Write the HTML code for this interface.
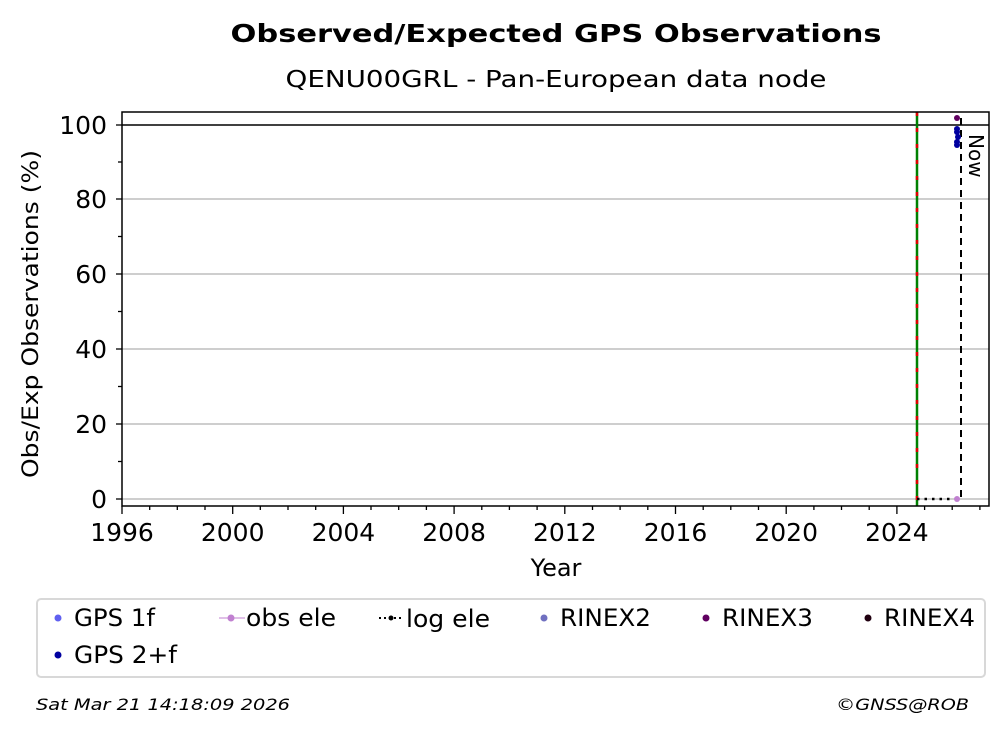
<!DOCTYPE html>
<html><head><style>body{margin:0;background:#fff}svg{display:block}</style></head><body>
<svg width="1008" height="734" xmlns="http://www.w3.org/2000/svg" font-family="DejaVu Sans, Liberation Sans, sans-serif">
<rect width="1008" height="734" fill="#fff"/>
<text x="556" y="42" text-anchor="middle" font-size="25" font-weight="bold" textLength="651" lengthAdjust="spacingAndGlyphs">Observed/Expected GPS Observations</text>
<text x="556" y="87" text-anchor="middle" font-size="23" textLength="541" lengthAdjust="spacingAndGlyphs">QENU00GRL - Pan-European data node</text>
<g stroke="#b0b0b0" stroke-width="1.3">
<line x1="122" x2="989" y1="499" y2="499"/><line x1="122" x2="989" y1="424" y2="424"/><line x1="122" x2="989" y1="349" y2="349"/><line x1="122" x2="989" y1="274" y2="274"/><line x1="122" x2="989" y1="199" y2="199"/>
</g>
<line x1="122" x2="989" y1="125" y2="125" stroke="#000" stroke-width="1.5"/>
<line x1="917" x2="917" y1="112" y2="506" stroke="#008000" stroke-width="2.5"/>
<line x1="917" x2="917" y1="112" y2="506" stroke="#e00000" stroke-width="2.5" stroke-dasharray="4,12"/>
<line x1="961" x2="961" y1="118" y2="499" stroke="#000" stroke-width="2" stroke-dasharray="7,5"/>
<line x1="917" x2="961" y1="499" y2="499" stroke="#000" stroke-width="2.5" stroke-dasharray="2.5,5"/>
<circle cx="957" cy="499" r="3" fill="#c080d0"/>
<circle cx="957" cy="118" r="3" fill="#600060"/>
<circle cx="957" cy="129" r="3" fill="#0000a0"/><circle cx="957" cy="132" r="3" fill="#0000a0"/>
<circle cx="958" cy="137" r="3" fill="#0000a0"/><circle cx="957" cy="142" r="3" fill="#0000a0"/><circle cx="957" cy="145" r="3" fill="#0000a0"/>
<text transform="translate(969,134) rotate(90)" font-size="20">Now</text>
<rect x="122" y="112" width="867" height="394" fill="none" stroke="#000" stroke-width="1.5"/>
<g stroke="#000" stroke-width="1.3">
<line x1="122" x2="116" y1="499" y2="499"/><line x1="122" x2="116" y1="424" y2="424"/><line x1="122" x2="116" y1="349" y2="349"/><line x1="122" x2="116" y1="274" y2="274"/><line x1="122" x2="116" y1="199" y2="199"/><line x1="122" x2="116" y1="125" y2="125"/>
<line x1="122" x2="118" y1="461.5" y2="461.5"/><line x1="122" x2="118" y1="386.5" y2="386.5"/><line x1="122" x2="118" y1="311.5" y2="311.5"/><line x1="122" x2="118" y1="236.5" y2="236.5"/><line x1="122" x2="118" y1="162" y2="162"/>
</g>
<g font-size="25" text-anchor="end">
<text x="107" y="508">0</text><text x="107" y="433">20</text><text x="107" y="358">40</text><text x="107" y="283">60</text><text x="107" y="208">80</text><text x="107" y="134">100</text>
</g>
<text transform="translate(38,314) rotate(-90)" text-anchor="middle" font-size="22" textLength="328" lengthAdjust="spacingAndGlyphs">Obs/Exp Observations (%)</text>
<g stroke="#000" stroke-width="1.3">
<path d="M122 506v8M232.7 506v8M343.4 506v8M454.1 506v8M564.8 506v8M675.5 506v8M786.2 506v8M896.9 506v8"/>
<path d="M149.7 506v4M177.3 506v4M205 506v4M260.3 506v4M288 506v4M315.7 506v4M371 506v4M398.7 506v4M426.4 506v4M481.8 506v4M509.4 506v4M537.1 506v4M592.5 506v4M620.1 506v4M647.8 506v4M703.2 506v4M730.8 506v4M758.5 506v4M813.9 506v4M841.5 506v4M869.2 506v4M924.6 506v4M952.2 506v4M979.9 506v4"/>
</g>
<g font-size="25" text-anchor="middle">
<text x="122" y="541">1996</text><text x="232.7" y="541">2000</text><text x="343.4" y="541">2004</text><text x="454.1" y="541">2008</text><text x="564.8" y="541">2012</text><text x="675.5" y="541">2016</text><text x="786.2" y="541">2020</text><text x="896.9" y="541">2024</text>
</g>
<text x="556" y="576" text-anchor="middle" font-size="24">Year</text>
<rect x="37" y="599" width="948" height="78" rx="4" fill="#fff" stroke="#d8d8d8" stroke-width="2"/>
<g font-size="24">
<circle cx="58" cy="618" r="3.5" fill="#6060f0"/><text x="74" y="626" textLength="81" lengthAdjust="spacingAndGlyphs">GPS 1f</text>
<line x1="219" x2="245" y1="618" y2="618" stroke="#c080d0" stroke-width="1"/><circle cx="231" cy="618" r="3.5" fill="#c080d0"/><text x="246" y="626" textLength="90" lengthAdjust="spacingAndGlyphs">obs ele</text>
<line x1="379" x2="404" y1="618" y2="618" stroke="#000" stroke-width="2" stroke-dasharray="2,3"/><circle cx="391" cy="618" r="2.5" fill="#000"/><text x="406" y="627" textLength="84" lengthAdjust="spacingAndGlyphs">log ele</text>
<circle cx="544" cy="618" r="3.5" fill="#7070c0"/><text x="560" y="626" textLength="91" lengthAdjust="spacingAndGlyphs">RINEX2</text>
<circle cx="706" cy="618" r="3.5" fill="#600060"/><text x="722" y="626" textLength="91" lengthAdjust="spacingAndGlyphs">RINEX3</text>
<circle cx="868" cy="618" r="3.5" fill="#200010"/><text x="884" y="626" textLength="91" lengthAdjust="spacingAndGlyphs">RINEX4</text>
<circle cx="58" cy="655" r="3.5" fill="#0000a0"/><text x="74" y="663" textLength="103" lengthAdjust="spacingAndGlyphs">GPS 2+f</text>
</g>
<text x="36" y="710" font-size="16" font-style="italic" textLength="254" lengthAdjust="spacingAndGlyphs">Sat Mar 21 14:18:09 2026</text>
<text x="969" y="710" font-size="16" font-style="italic" text-anchor="end" textLength="133" lengthAdjust="spacingAndGlyphs">©GNSS@ROB</text>
</svg>
</body></html>
